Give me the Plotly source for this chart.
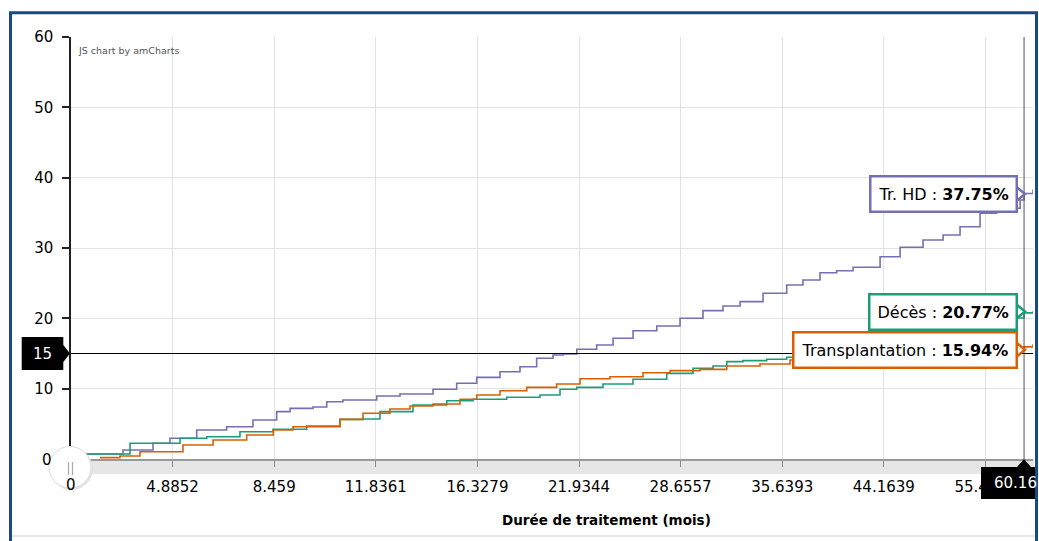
import plotly.graph_objects as go

# ---------------- data ----------------
# x positions are category positions (1 unit = one labelled grid step of the category axis)
tick_labels = ["0", "4.8852", "8.459", "11.8361", "16.3279", "21.9344",
               "28.6557", "35.6393", "44.1639", "55.4426"]
tick_pos = [0, 1, 2, 3, 4, 5, 6, 7, 8, 9]

trhd_pos = [0.154, 0.512, 0.807, 0.974, 1.237, 1.532, 1.791, 2.024, 2.156, 2.382,
            2.517, 2.677, 3.009, 3.238, 3.563, 3.796, 3.993, 4.222, 4.419, 4.583,
            4.744, 4.843, 4.978, 5.174, 5.335, 5.532, 5.765, 5.994, 6.22, 6.417,
            6.585, 6.811, 7.044, 7.204, 7.372, 7.536, 7.697, 7.963, 8.16, 8.386,
            8.583, 8.75, 8.947, 9.111, 9.341, 9.38, 9.468]
trhd_pct = [0.71, 1.28, 2.23, 2.94, 4.12, 4.59, 5.55, 6.73, 7.2, 7.39,
            8.15, 8.39, 8.96, 9.24, 9.91, 10.76, 11.61, 12.41, 13.12, 14.32,
            14.79, 14.93, 15.6, 16.21, 17.16, 18.24, 18.91, 20.01, 21.09, 21.76,
            22.37, 23.56, 24.74, 25.45, 26.49, 26.77, 27.26, 28.76, 30.1, 31.14,
            31.85, 33.03, 34.94, 35.65, 36.83, 37.75, 38.3]

deces_pos = [0.154, 0.581, 1.073, 1.336, 1.663, 1.988, 2.32, 2.648, 2.874, 3.041,
             3.366, 3.698, 3.957, 4.288, 4.616, 4.813, 4.977, 5.236, 5.531, 5.863,
             6.122, 6.319, 6.454, 6.614, 6.847, 7.044, 7.766, 8.287, 8.75, 9.144,
             9.38, 9.468]
deces_pct = [0.71, 2.23, 2.94, 3.17, 3.88, 4.22, 4.69, 5.64, 5.69, 6.73,
             7.68, 8.29, 8.49, 8.77, 9.1, 9.91, 10.19, 10.66, 11.33, 12.18,
             12.9, 13.22, 13.84, 13.98, 14.18, 14.46, 16.92, 18.06, 19.05, 20.05,
             20.77, 21.0]

transp_pos = [0.285, 0.482, 0.679, 1.102, 1.398, 1.729, 1.991, 2.185, 2.648, 2.874,
              3.139, 3.337, 3.563, 3.829, 3.993, 4.222, 4.485, 4.78, 5.01, 5.305,
              5.63, 5.896, 6.191, 6.454, 6.781, 7.077, 8.159, 8.947, 9.38, 9.468]
transp_pct = [0.2, 0.43, 1.04, 1.99, 2.7, 3.41, 4.12, 4.59, 5.64, 6.5,
              7.11, 7.54, 7.82, 8.49, 9.1, 9.71, 10.19, 10.66, 11.42, 11.7,
              12.27, 12.56, 12.75, 13.22, 13.51, 14.08, 14.79, 15.5, 15.94, 16.3]

series_names = ["Tr. HD", "Décès", "Transplantation"]
series_colors = ["#7570b3", "#1b9e77", "#d95f02"]
final_values = [37.75, 20.77, 15.94]

cursor_value_y = 15
cursor_pos_x = 9.38
cursor_label_x = "60.16"
y_ticks = [0, 10, 20, 30, 40, 50, 60]

# ---------------- geometry helpers (pixel -> paper) ----------------
L, R, T, B = 71, 1033, 37, 459
W, H = 1039, 541


def px(X):
    return (X - L) / (R - L)


def py(Y):
    return (B - Y) / (B - T)


FONT = "DejaVu Sans, Verdana, sans-serif"

fig = go.Figure()
for name, col, xs, ys in zip(series_names, series_colors,
                             [trhd_pos, deces_pos, transp_pos],
                             [trhd_pct, deces_pct, transp_pct]):
    fig.add_trace(go.Scatter(x=xs, y=ys, mode="lines", name=name,
                             line=dict(color=col, width=1.6, shape="hv"),
                             showlegend=False, hoverinfo="skip"))

shapes = []
annotations = []

# outer frame
shapes.append(dict(type="rect", xref="paper", yref="paper",
                   x0=px(10.5), x1=px(1036.5), y0=py(570), y1=py(12.8),
                   line=dict(color="#174a86", width=3), fillcolor="rgba(0,0,0,0)",
                   layer="above"))
shapes.append(dict(type="line", xref="paper", yref="paper",
                   x0=px(12), x1=px(1035), y0=py(536), y1=py(536),
                   line=dict(color="#cfcfcf", width=1), layer="below"))

# scrollbar band
shapes.append(dict(type="rect", xref="paper", yref="paper",
                   x0=px(71), x1=px(1034), y0=py(474), y1=py(459),
                   fillcolor="#e6e6e6", line=dict(width=0), layer="below"))

# cursor lines
shapes.append(dict(type="line", xref="paper", yref="y",
                   x0=0, x1=1, y0=cursor_value_y, y1=cursor_value_y,
                   line=dict(color="#000000", width=1), layer="above"))
shapes.append(dict(type="line", xref="x", yref="paper",
                   x0=cursor_pos_x, x1=cursor_pos_x, y0=0, y1=1,
                   line=dict(color="#555555", width=1), layer="above"))

# y cursor balloon
shapes.append(dict(type="path", xref="paper", yref="paper",
                   path=f"M {px(21.7)},{py(337)} L {px(63.3)},{py(337)} L {px(63.3)},{py(345)} "
                        f"L {px(70)},{py(353.5)} L {px(63.3)},{py(362)} L {px(63.3)},{py(370)} "
                        f"L {px(21.7)},{py(370)} Z",
                   fillcolor="#000000", line=dict(width=0), layer="above"))
annotations.append(dict(xref="paper", yref="paper", x=px(42.5), y=py(353.5),
                        text=str(cursor_value_y), showarrow=False,
                        font=dict(family=FONT, size=15, color="white"),
                        xanchor="center", yanchor="middle"))

# x cursor balloon
shapes.append(dict(type="path", xref="paper", yref="paper",
                   path=f"M {px(981)},{py(467)} L {px(1017)},{py(467)} L {px(1024)},{py(459)} "
                        f"L {px(1031)},{py(467)} L {px(1035)},{py(467)} L {px(1035)},{py(499)} "
                        f"L {px(981)},{py(499)} Z",
                   fillcolor="#000000", line=dict(width=0), layer="above"))
annotations.append(dict(xref="paper", yref="paper", x=px(992), y=py(483),
                        text=cursor_label_x, showarrow=False,
                        font=dict(family=FONT, size=15, color="white"),
                        xanchor="left", yanchor="middle"))

# scrollbar grip circle
shapes.append(dict(type="circle", xref="paper", yref="paper",
                   x0=px(50), x1=px(93), y0=py(490), y1=py(448),
                   fillcolor="#e3e3e3", line=dict(width=0), layer="above"))
shapes.append(dict(type="circle", xref="paper", yref="paper",
                   x0=px(49), x1=px(91), y0=py(488), y1=py(446.5),
                   fillcolor="#ffffff", line=dict(color="#dddddd", width=1), layer="above"))
for gx in (68.5, 72.5):
    shapes.append(dict(type="line", xref="paper", yref="paper",
                       x0=px(gx), x1=px(gx), y0=py(475), y1=py(462),
                       line=dict(color="#aaaaaa", width=1.2), layer="above"))

# "0" labels drawn over the grip
annotations.append(dict(xref="paper", yref="paper", x=px(53.5), y=py(460),
                        text="0", showarrow=False,
                        font=dict(family=FONT, size=15, color="#000"),
                        xanchor="right", yanchor="middle"))
annotations.append(dict(xref="paper", yref="paper", x=px(71), y=py(485),
                        text=tick_labels[0], showarrow=False,
                        font=dict(family=FONT, size=15, color="#000"),
                        xanchor="center", yanchor="middle"))

# value balloons
balloon_centers = [194, 311.5, 349.7]
for name, col, val, yc in zip(series_names, series_colors, final_values, balloon_centers):
    shapes.append(dict(type="path", xref="paper", yref="paper",
                       path=f"M {px(1016.5)},{py(yc - 7)} L {px(1025)},{py(yc)} "
                            f"L {px(1016.5)},{py(yc + 7)} Z",
                       fillcolor="#ffffff", line=dict(color=col, width=2.5), layer="above"))
    annotations.append(dict(xref="paper", yref="paper", x=px(1018), y=py(yc),
                            text=f"{name} : <b>{val:.2f}%</b>", showarrow=False,
                            font=dict(family=FONT, size=16, color="#000"),
                            xanchor="right", yanchor="middle",
                            bgcolor="#ffffff", bordercolor=col, borderwidth=2.5,
                            borderpad=7))

# credit + axis title
annotations.append(dict(xref="paper", yref="paper", x=px(76), y=py(50),
                        text="JS chart by amCharts", showarrow=False,
                        font=dict(family=FONT, size=9.5, color="#555"),
                        xanchor="left", yanchor="middle"))
annotations.append(dict(xref="paper", yref="paper", x=px(606), y=py(520),
                        text="<b>Durée de traitement (mois)</b>", showarrow=False,
                        font=dict(family=FONT, size=13.5, color="#000"),
                        xanchor="center", yanchor="middle"))

fig.update_layout(
    width=W, height=H,
    margin=dict(l=L, r=W - R, t=T, b=H - B),
    paper_bgcolor="white", plot_bgcolor="white",
    font=dict(family=FONT, size=15, color="#000"),
    shapes=shapes, annotations=annotations,
    xaxis=dict(range=[0, 9.468], tickmode="array", tickvals=tick_pos,
               ticktext=[""] + tick_labels[1:],
               showgrid=True, gridcolor="#e2e2e2", gridwidth=1,
               showline=True, linecolor="#999999", linewidth=2,
               ticks="outside", ticklen=6, tickcolor="#888888", tickwidth=1,
               ticklabelstandoff=7, zeroline=False,
               tickfont=dict(family=FONT, size=15, color="#000")),
    yaxis=dict(range=[0, 60], tickmode="array", tickvals=y_ticks,
               ticktext=[""] + [str(v) for v in y_ticks[1:]],
               showgrid=True, gridcolor="#e2e2e2", gridwidth=1,
               showline=True, linecolor="#222222", linewidth=1.5,
               ticks="outside", ticklen=7, tickcolor="#222222", tickwidth=1.5,
               ticklabelstandoff=6, zeroline=False,
               tickfont=dict(family=FONT, size=15, color="#000")),
)

fig.write_html("out.html", config={"displayModeBar": False},
               post_script="document.body.style.margin='0';")
